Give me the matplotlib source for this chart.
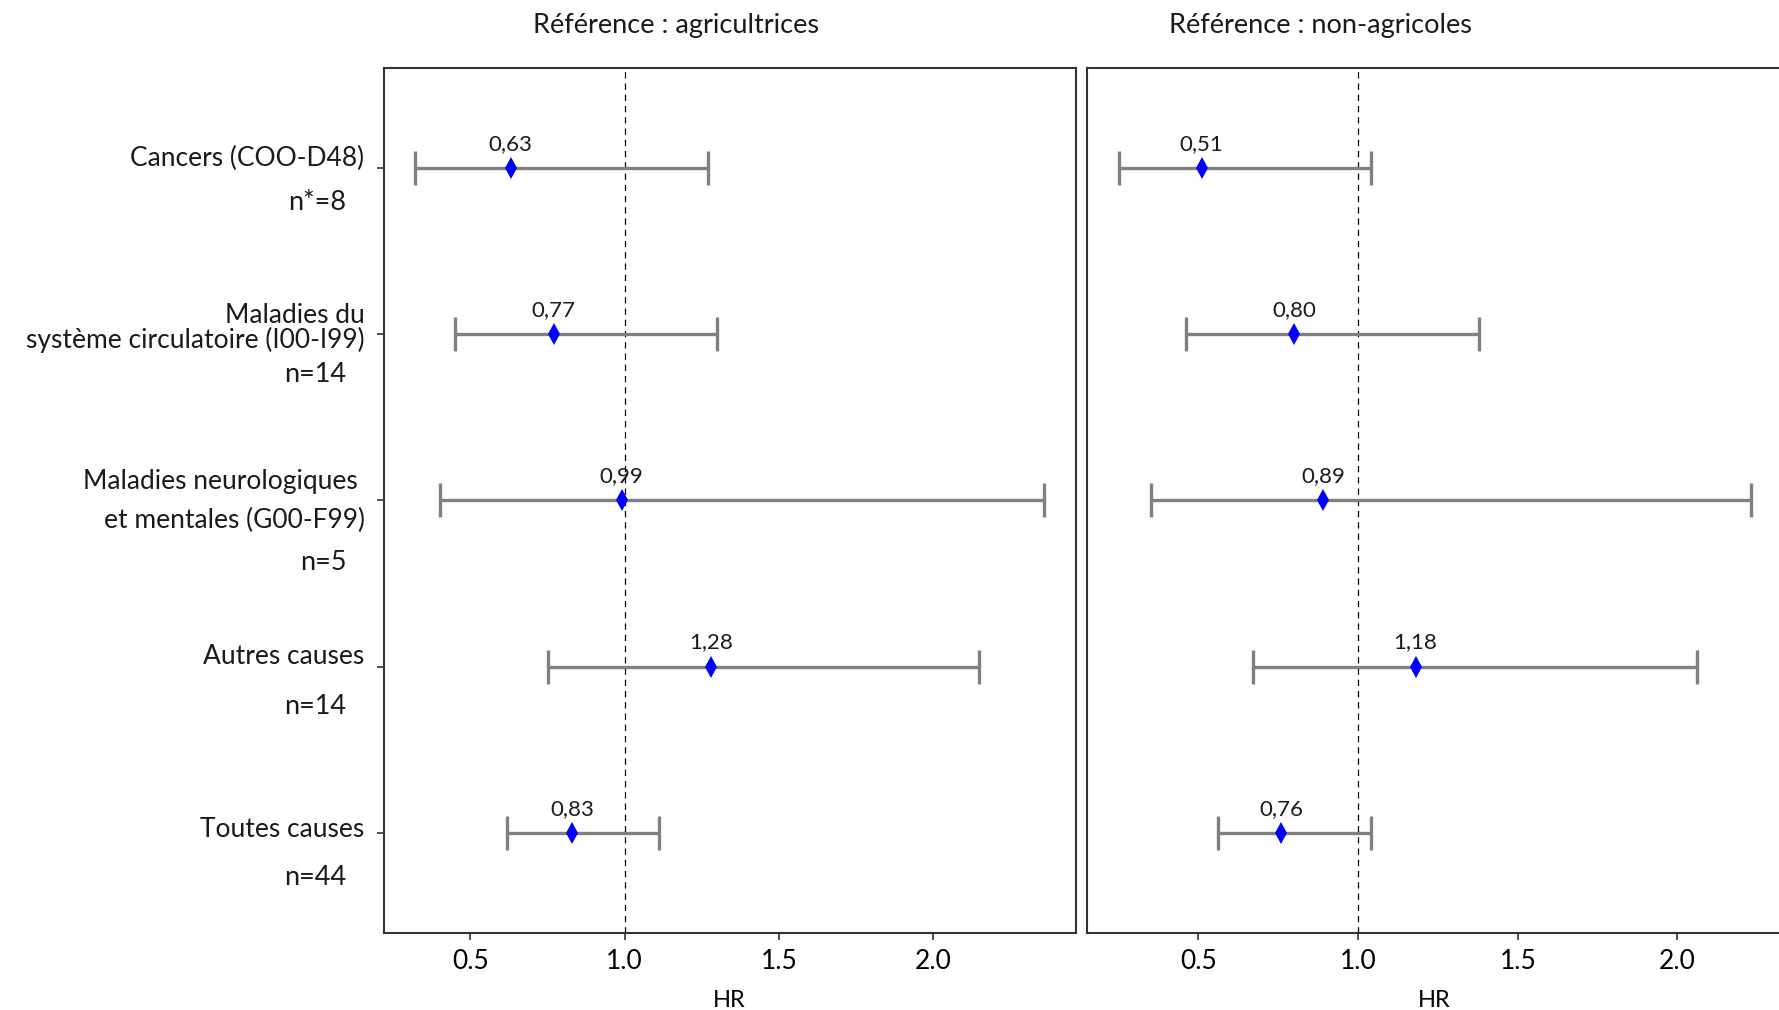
import numpy as np
import matplotlib
matplotlib.use('Agg')
from matplotlib import pyplot as plt

# Sans-serif text everywhere, near-black
plt.rcParams['font.family'] = ['Lato', 'DejaVu Sans']
plt.rcParams['text.color'] = '#1a1a1a'

# causes of death, top to bottom
causes = ['Cancers (COO-D48)',
          'Maladies du\nsystème circulatoire (I00-I99)',
          'Maladies neurologiques \net mentales (G00-F99)',
          'Autres causes',
          'Toutes causes']
# number of deaths under each cause
effectifs = ['n*=8', 'n=14', 'n=5', 'n=14', 'n=44']

# panel titles
titles = ['Référence : agricultrices', 'Référence : non-agricoles']

# hazard ratios and confidence intervals, reference = agricultrices
hr_agri = [0.63, 0.77, 0.99, 1.28, 0.83]
low_agri = [0.32, 0.45, 0.40, 0.75, 0.62]
high_agri = [1.27, 1.30, 2.36, 2.15, 1.11]

# hazard ratios and confidence intervals, reference = non-agricoles
hr_nonagri = [0.51, 0.80, 0.89, 1.18, 0.76]
low_nonagri = [0.25, 0.46, 0.35, 0.67, 0.56]
high_nonagri = [1.04, 1.38, 2.23, 2.06, 1.04]

# x axis ticks
x_ticks = [0.5, 1.0, 1.5, 2.0]
x_tick_labels = ['0.5', '1.0', '1.5', '2.0']

# layout of the left labels (pixel offsets from the tick)
name_dy = [9, 6, -1, 10, 3]
n_dy = [-35, -40, -62, -40, -45]
name_spacing = [1.2, 0.95, 1.7, 1.2, 1.2]

W, H = 1779, 1010
fig = plt.figure(figsize=(W / 100, H / 100), dpi=100)

# the two facets; the right one runs slightly past the figure edge
ax1 = fig.add_axes([383.5 / W, 77.4 / H, 692.1 / W, 864.6 / H])
ax2 = fig.add_axes([1087 / W, 77.4 / H, 695.5 / W, 864.6 / H])

panels = [(ax1, hr_agri, low_agri, high_agri),
          (ax2, hr_nonagri, low_nonagri, high_nonagri)]

y = np.arange(len(causes))

for ax, hr, low, high in panels:
    hr = np.array(hr)
    low = np.array(low)
    high = np.array(high)

    # confidence intervals
    ax.errorbar(hr, y, xerr=[hr - low, high - hr], fmt='none',
                ecolor='#808080', elinewidth=2.4, capsize=12, capthick=2.4, zorder=2)
    # reference line at HR = 1
    ax.axvline(1.0, color='black', lw=0.9, ls=(0, (5, 4)), zorder=1)
    # point estimates
    ax.plot(hr, y, 'd', color='blue', markersize=10.7, mew=0, zorder=3)

    # value above each point, with a decimal comma
    for xi, yi in zip(hr, y):
        ax.annotate(f'{xi:.2f}'.replace('.', ','), (xi, yi), xytext=(0, 24),
                    textcoords='offset pixels', ha='center', va='center', fontsize=16)

    # ggplot-like 5% expansion of the x range
    span = high.max() - low.min()
    ax.set_xlim(low.min() - 0.05 * span, high.max() + 0.05 * span)
    ax.set_ylim(len(causes) - 1 + 0.6, -0.6)

    ax.set_xticks(x_ticks)
    ax.set_xticklabels(x_tick_labels, fontsize=19)
    ax.set_xlabel('HR', fontsize=17, labelpad=11)
    ax.tick_params(axis='x', length=5, width=1.2, color='#333333', pad=7)

    for s in ax.spines.values():
        s.set_color('#333333')
        s.set_linewidth(1.5)

# y axis only on the left facet
ax1.set_yticks(y)
ax1.set_yticklabels([])
ax1.tick_params(axis='y', length=5, width=1.2, color='#333333')
ax2.set_yticks([])

# category names and counts to the left of the first facet
for i in range(len(causes)):
    ax1.annotate(causes[i], (0, y[i]), xycoords=('axes fraction', 'data'),
                 xytext=(-19, name_dy[i]), textcoords='offset pixels',
                 ha='right', va='center', multialignment='right',
                 linespacing=name_spacing[i], fontsize=19)
    ax1.annotate(effectifs[i], (0, y[i]), xycoords=('axes fraction', 'data'),
                 xytext=(-37, n_dy[i]), textcoords='offset pixels',
                 ha='right', va='center', fontsize=19.5)

# facet titles
fig.text(676 / W, 1 - 25 / H, titles[0], ha='center', va='center', fontsize=19.5)
fig.text(1320 / W, 1 - 25 / H, titles[1], ha='center', va='center', fontsize=19.5)

fig.savefig('out.png', dpi=100)
